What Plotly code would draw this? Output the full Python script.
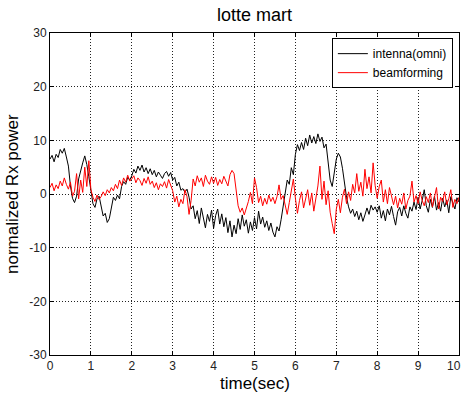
import plotly.graph_objects as go

# time axis (seconds), 0.05 s steps
time_sec = [round(i * 0.05, 2) for i in range(201)]

omni = [
    6.5, 7.2, 6.0, 7.4, 6.8, 8.3, 7.6, 8.5, 6.9, 5.2,
    1.5, -0.8, -1.6, -0.4, 2.8, 4.5, 5.8, 7.1, 5.5, 3.2,
    0.6, -1.8, -2.5, -0.9, -0.4, -2.2, -4.1, -3.6, -5.3, -4.6,
    -2.8, -0.6, -1.2, -0.2, -0.9, 1.4, 2.3, 1.8, 3.1, 2.6,
    3.4, 4.6, 3.9, 5.2, 4.4, 5.4, 4.1, 4.9, 3.8, 4.7,
    3.6, 4.4, 3.2, 4.1, 3.5, 2.9, 3.8, 4.2, 3.3, 4.0,
    2.6, 3.1, 1.5, 2.2, 0.7, 1.0, 0.3, 0.9, -0.6, -2.8,
    -2.2, -4.6, -3.1, -5.5, -2.6, -4.2, -6.3, -3.8, -5.1, -3.0,
    -6.4, -4.0, -2.8, -5.6, -3.7, -6.1, -4.4, -7.2, -5.0, -8.0,
    -5.8, -7.4, -4.6, -6.6, -3.9, -6.0, -4.8, -7.3, -5.2, -6.8,
    -4.4, -6.5, -3.2, -5.6, -4.3, -6.2, -5.0, -6.8, -5.4, -7.1,
    -8.0, -6.1, -6.9, -4.8, -2.0, 0.4, 2.6, 1.8, 4.9, 3.6,
    7.4, 9.2, 8.1, 9.6, 8.3, 10.4, 9.0, 11.0, 9.5, 10.7,
    9.4, 11.2, 9.8, 10.6, 8.6, 9.3, 6.4, 2.6, 1.4, 3.8,
    6.5, 7.6, 6.9, 4.8, 1.5, -0.6, -2.4, -3.6, -2.8, -4.2,
    -3.2, -4.8, -3.5, -5.1, -3.9, -2.6, -3.8, -2.1, -3.0, -2.4,
    -3.4, -2.2, -4.5, -3.1, -5.0, -2.8, -3.9, -2.3, -4.2, -5.8,
    -3.3, -2.5, -4.1, -2.2, -3.6, -4.5, -2.4, -3.2, -1.5, -2.9,
    -0.6, -2.8, -1.2, 0.8, -2.2, -3.4, -1.0, -2.5, -0.4, -3.0,
    -1.6, -3.2, -0.8, -2.4, -1.1, -3.5, -0.5, -1.9, -2.8, -0.7,
    -1.5,
]

beam = [
    1.2, 2.0, 0.6, 1.7, 1.0, 2.4, 1.5, 3.0, 1.8, 0.9,
    2.2, -0.4, 0.5, 3.8, -0.9, 2.6, 0.3, 5.0, 1.4, 6.2,
    0.8, -0.6, -1.4, -0.2, -1.0, -0.5, 0.4, -0.3, 0.8, 0.2,
    1.2, 0.6, 1.8, 1.0, 2.6, 1.6, 3.0, 2.2, 3.5, 2.4,
    2.8, 3.4, 2.1, 3.0, 2.5, 1.6, 2.9, 2.0, 3.2, 1.8,
    2.4, 1.2, 2.1, 0.8, 1.9, 1.4, 2.3, 1.1, 2.7, 1.7,
    0.6, -1.5, -0.4, -2.4, -1.0, -1.8, 0.8, -0.5, -3.8, -1.2,
    2.8, 1.5, 3.4, 2.2, 3.0, 1.4, 3.5, 2.4, 1.8, 3.2,
    2.0, 3.1, 1.6, 2.7, 1.9, 3.3, 2.2, 1.5, 3.6, 4.4,
    3.8, 0.6, -2.2, -3.4, -2.6, -3.9, -2.8, -1.4, 0.3, -1.8,
    3.0, 1.2, -1.6, -0.4, -2.2, -0.8, -1.9, -0.2, -1.4, -0.6,
    -1.8, -0.5, 1.7, -1.0, -0.3, -2.4, -3.8, -1.6, 0.6, 2.8,
    -0.8, -3.6, -1.2, 0.4, -2.6, -0.9, 0.8, -2.1, 0.2, -3.2,
    -0.6, 1.5, 5.2, -1.0, 2.4, -2.0, 0.6, -3.4, -5.5, -7.4,
    -2.8, -1.0, -3.5, -0.6, 0.9, -1.8, 0.4, -1.2, 1.8, 0.2,
    3.8, 0.5, 2.2, -0.4, 4.6, 1.0, 3.2, 0.2, 5.8, 1.6,
    -0.8, 1.4, 2.6, -1.5, 0.8, -1.8, 1.2, -0.6, -2.0, -0.4,
    -2.6, -0.8, -1.9, 0.2, -2.8, -1.2, -0.4, 2.4, -1.5, -0.3,
    -1.8, 0.4, -1.2, -2.2, -0.5, -1.6, 0.2, -2.4, -0.8, 1.2,
    -2.8, -0.6, -1.4, 0.4, -2.0, -0.9, 0.8, -2.5, -1.0, -1.8,
    -0.6,
]

x_ticks = list(range(0, 11))
x_tick_labels = [str(v) for v in range(0, 10)] + [""]
last_x_label = "10"
y_ticks = [-30, -20, -10, 0, 10, 20, 30]

font_family = "Liberation Sans, Arial, sans-serif"

fig = go.Figure()
fig.add_trace(go.Scatter(x=time_sec, y=omni, mode="lines", name="intenna(omni)",
                         line=dict(color="black", width=1)))
fig.add_trace(go.Scatter(x=time_sec, y=beam, mode="lines", name="beamforming",
                         line=dict(color="red", width=1)))

axis_common = dict(
    showline=True, linecolor="black", linewidth=1, mirror="ticks",
    ticks="inside", ticklen=4, tickcolor="black",
    showgrid=True, gridcolor="#222", gridwidth=1, griddash="1px,2px",
    zeroline=False, automargin=False, ticklabeloverflow="allow",
    tickfont=dict(family=font_family, size=12, color="#222"),
)

fig.update_layout(
    width=464, height=393,
    margin=dict(l=50, r=5, t=33, b=38, autoexpand=False),
    paper_bgcolor="white", plot_bgcolor="white",
    title=dict(text="lotte mart", x=254.5 / 464, xanchor="center",
               xref="container", yref="container",
               y=1 - 15 / 393, yanchor="middle",
               font=dict(family=font_family, size=18, color="black")),
    xaxis=dict(range=[0, 10], tickvals=x_ticks, ticktext=x_tick_labels,
               **axis_common),
    yaxis=dict(range=[-30, 30], tickvals=y_ticks, ticktext=[str(v) for v in y_ticks],
               **axis_common),
    legend=dict(x=0.985, xanchor="right", y=0.984, yanchor="top",
                bordercolor="black", borderwidth=1, bgcolor="white",
                font=dict(family=font_family, size=12, color="black"),
                tracegroupgap=0),
    showlegend=True,
    annotations=[
        dict(text=last_x_label, xref="x", yref="paper", x=x_ticks[-1], y=0,
             xanchor="right", yanchor="middle", xshift=3, yshift=-11,
             showarrow=False, borderpad=0,
             font=dict(family=font_family, size=12, color="#222")),
        dict(text="time(sec)", xref="paper", yref="paper", x=0.5, y=0,
             xanchor="center", yanchor="middle", yshift=-28, showarrow=False,
             font=dict(family=font_family, size=17, color="black")),
        dict(text="normalized Rx power", xref="paper", yref="paper", x=0, y=0.5,
             xanchor="center", yanchor="middle", xshift=-38, textangle=-90,
             showarrow=False,
             font=dict(family=font_family, size=17, color="black")),
    ],
)

fig.write_html(
    "out.html",
    config={"displayModeBar": False},
    post_script="document.body.style.margin='0';document.body.style.overflow='hidden';",
)
